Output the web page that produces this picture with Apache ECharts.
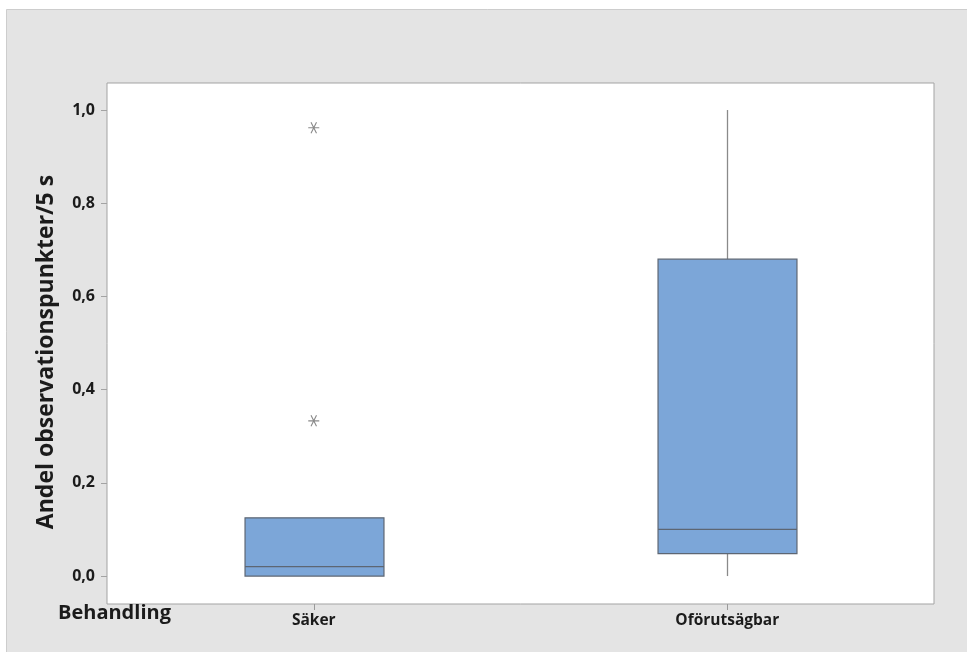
<!DOCTYPE html>
<html>
<head>
<meta charset="utf-8">
<script src="https://cdn.jsdelivr.net/npm/echarts@6/dist/echarts.min.js"></script>
<style>
  html, body { margin: 0; padding: 0; background: #ffffff; }
  #chart { width: 967px; height: 652px; }
</style>
</head>
<body>
<div id="chart"></div>
<script>
// Treatment groups
const categories = ['Säker', 'Oförutsägbar'];
// Box statistics per group: [min whisker, Q1, median, Q3, max whisker]
const boxStats = [
  [0, 0, 0.02, 0.125, 0.125],
  [0, 0.048, 0.1, 0.68, 1.0]
];
// Outliers: [group index, value]
const outliers = [
  [0, 0.333],
  [0, 0.962]
];
const yTicks = [0, 0.2, 0.4, 0.6, 0.8, 1.0];

const chart = echarts.init(document.getElementById('chart'), null, { renderer: 'canvas' });

const FONT = '"Open Sans", "Noto Sans", sans-serif';
const TEXT = '#1b1b1b';
const FRAME = '#a3a3a3';

// Six-armed asterisk used for outliers
const asterisk = 'path://M-10,0L10,0M-5,-8.66L5,8.66M5,-8.66L-5,8.66';

const boxData = boxStats.map((s, i) => [i].concat(s));

function renderBox(params, api) {
  const x = api.value(0);
  const lo = api.coord([x, api.value(1)]);
  const q1 = api.coord([x, api.value(2)]);
  const med = api.coord([x, api.value(3)]);
  const q3 = api.coord([x, api.value(4)]);
  const hi = api.coord([x, api.value(5)]);
  const band = api.size([1, 0])[0];
  const w = band * 0.336;
  const cx = Math.round(q1[0]) + 0.5;
  const left = cx - w / 2;
  const whisker = { stroke: '#8a8a8a', lineWidth: 1.3 };
  const children = [];
  if (hi[1] < q3[1]) {
    children.push({ type: 'line', shape: { x1: cx, y1: hi[1], x2: cx, y2: q3[1] }, style: whisker });
  }
  if (lo[1] > q1[1]) {
    children.push({ type: 'line', shape: { x1: cx, y1: q1[1], x2: cx, y2: lo[1] }, style: whisker });
  }
  children.push({
    type: 'rect',
    shape: { x: left, y: q3[1], width: w, height: q1[1] - q3[1] },
    style: { fill: '#7ca6d8', stroke: '#5d6673', lineWidth: 1.2 }
  });
  children.push({
    type: 'line',
    shape: { x1: left, y1: med[1], x2: left + w, y2: med[1] },
    style: { stroke: '#5d6673', lineWidth: 1.2 }
  });
  return { type: 'group', children: children };
}

chart.setOption({
  backgroundColor: '#ffffff',
  animation: false,
  graphic: [
    {
      type: 'rect',
      z: -10,
      shape: { x: 6.5, y: 9.5, width: 975, height: 660 },
      style: { fill: '#e4e4e4', stroke: '#cdcdcd', lineWidth: 1 }
    },
    {
      type: 'text',
      left: 58,
      top: 603,
      style: { text: 'Behandling', font: 'bold 20px ' + FONT, fill: TEXT }
    },
    {
      // Y axis title, rotated to read bottom-to-top
      type: 'text',
      x: 46,
      y: 352,
      rotation: Math.PI / 2,
      style: {
        text: 'Andel observationspunkter/5 s',
        font: 'bold 23px ' + FONT,
        fill: TEXT,
        align: 'center',
        verticalAlign: 'middle'
      }
    }
  ],
  grid: {
    left: 107, right: 33, top: 83, bottom: 48,
    show: true,
    backgroundColor: '#ffffff',
    borderColor: FRAME,
    borderWidth: 1
  },
  xAxis: {
    type: 'category',
    data: categories,
    boundaryGap: true,
    position: 'bottom',
    axisLine: { show: false, onZero: false },
    axisTick: { show: true, alignWithLabel: true, length: 6, inside: false, lineStyle: { color: '#9a9a9a', width: 1 } },
    axisLabel: { margin: 9, color: TEXT, fontFamily: FONT, fontSize: 15.5, fontWeight: 'bold' },
    splitLine: { show: false }
  },
  yAxis: {
    type: 'value',
    min: -0.06,
    max: 1.058,
    axisLine: { show: false, onZero: false },
    axisTick: { show: true, length: 6, customValues: yTicks, lineStyle: { color: FRAME } },
    axisLabel: {
      customValues: yTicks,
      margin: 12,
      color: TEXT,
      fontFamily: FONT,
      fontSize: 16,
      fontWeight: 'bold',
      formatter: v => v.toFixed(1).replace('.', ',')
    },
    splitLine: { show: false }
  },
  series: [
    {
      type: 'custom',
      renderItem: renderBox,
      encode: { x: 0, y: [1, 2, 3, 4, 5] },
      data: boxData,
      z: 2
    },
    {
      type: 'scatter',
      data: outliers,
      symbol: asterisk,
      symbolSize: 11,
      itemStyle: { color: 'none', borderColor: '#6a6a6a', borderWidth: 1.1 },
      z: 3
    }
  ]
});
</script>
</body>
</html>
